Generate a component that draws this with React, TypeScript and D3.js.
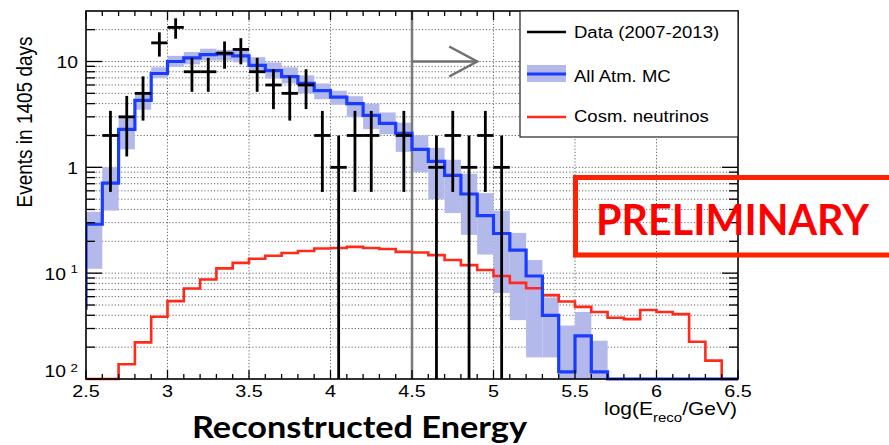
import React from "react";
import * as d3 from "d3";

// ---------- data ----------
const binStart = 2.5;
const binWidth = 0.1;

// All atmospheric MC (blue), per 0.1 bin from 2.5 to 6.5
const mcValues = [
  0.29, 0.71, 2.28, 4.3, 7.7, 10.0, 10.8, 11.6, 11.8, 11.3,
  9.2, 8.2, 7.2, 6.2, 5.3, 4.6, 4.0, 3.1, 2.6, 2.1,
  1.48, 1.14, 0.84, 0.56, 0.35, 0.237, 0.165, 0.094, 0.04, 0.0117,
  0.0256, 0.0117, 0, 0, 0, 0, 0, 0, 0, 0,
];
const mcStartValue = 0.045;
const mcLow = [
  0.11, 0.39, 1.48, 3.5, 7.0, 8.9, 9.4, 10.2, 10.2, 9.8,
  7.9, 6.9, 6.2, 5.0, 4.4, 3.9, 3.0, 2.3, 2.05, 1.4,
  0.9, 0.5, 0.37, 0.23, 0.15, 0.065, 0.036, 0.016, 0.016, 0.005,
  0.005, 0.005, 0, 0, 0, 0, 0, 0, 0, 0,
];
const mcHigh = [
  0.38, 1.0, 2.95, 5.1, 8.8, 11.3, 12.3, 13.2, 12.9, 12.8,
  11.0, 9.8, 8.8, 7.4, 6.2, 5.3, 4.7, 4.0, 3.3, 2.64,
  2.0, 1.53, 1.18, 0.87, 0.57, 0.39, 0.24, 0.133, 0.059, 0.032,
  0.043, 0.023, 0, 0, 0, 0, 0, 0, 0, 0,
];

// Cosmic neutrinos (red)
const cosmValues = [
  0, 0, 0.0138, 0.0222, 0.0387, 0.0544, 0.0717, 0.0872, 0.111, 0.125,
  0.137, 0.146, 0.155, 0.162, 0.171, 0.173, 0.177, 0.173, 0.169, 0.159,
  0.157, 0.148, 0.133, 0.119, 0.107, 0.094, 0.081, 0.072, 0.062, 0.054,
  0.048, 0.043, 0.0379, 0.0368, 0.0448, 0.043, 0.041, 0.0225, 0.0149, 0,
];

// Data (2007-2013)
const dataCenters = [
  2.65, 2.75, 2.85, 2.95, 3.05, 3.15, 3.25, 3.35, 3.45, 3.55,
  3.65, 3.75, 3.85, 3.95, 4.05, 4.15, 4.25, 4.45, 4.65, 4.75,
  4.85, 4.95, 5.05,
];
const dataCounts = [
  2, 3, 5, 15, 21, 8, 8, 12, 13, 8,
  6, 5, 6, 2, 1, 2, 2, 2, 1, 2,
  1, 2, 1,
];

const xTickValues = [2.5, 3, 3.5, 4, 4.5, 5, 5.5, 6, 6.5];
const xTickLabels = ["2.5", "3", "3.5", "4", "4.5", "5", "5.5", "6", "6.5"];
const xGridValues = [3, 3.5, 4, 4.5, 5, 5.5, 6];
const yLabelValues = [10, 1, 0.1, 0.01];
const yLabelBase = ["10", "1", "10", "10"];
const yLabelSup = ["", "", "1", "2"];
const cutValue = 4.5;
const arrowEnd = 4.9;
const arrowLevel = 10;

const legendLabels = ["Data (2007-2013)", "All Atm. MC", "Cosm. neutrinos"];
const yTitle = "Events in 1405 days";
const xTitle = "Reconstructed Energy";
const stamp = "PRELIMINARY";

// ---------- layout ----------
const W = 889;
const H = 445;
const L = 86, R = 738, T = 11, B = 379;

const x = d3.scaleLinear().domain([2.5, 6.5]).range([L, R]);
const y = d3.scaleLog().domain([0.01, 30]).range([B, T]).clamp(true);
const yv = (v: number) => y(Math.max(v, 0.01));

const FONT = "'Liberation Sans', Arial, Helvetica, sans-serif";
const BOLD = "Lato, 'Open Sans', sans-serif";

function stepPath(vals: number[], start: number) {
  let p = `M${x(binStart)},${yv(start)}`;
  vals.forEach((v, i) => {
    const lo = binStart + i * binWidth;
    const hi = lo + binWidth;
    const yy = yv(v);
    p += `L${x(lo)},${yy}L${x(hi)},${yy}`;
  });
  return p;
}

function ST(props: any) {
  const { x: tx, y: ty, sx = 1, size, anchor = "start", fill = "#000", children, ...rest } = props;
  return (
    <text
      transform={`translate(${tx},${ty}) scale(${sx},1)`}
      fontSize={size}
      fontFamily={FONT}
      textAnchor={anchor}
      fill={fill}
      {...rest}
    >
      {children}
    </text>
  );
}

export default function App() {
  const yTicks = y.ticks().filter((v) => v < 29);
  const xTicks = x.ticks(40);
  const isMajorY = (v: number) => Math.abs(Math.log10(v) - Math.round(Math.log10(v))) < 1e-6;
  const isMajorX = (v: number) => Math.abs(v * 2 - Math.round(v * 2)) < 1e-6;

  const bins = mcValues.map((_, i) => binStart + i * binWidth);

  return (
    <svg
      width={W}
      height={H}
      style={{ position: "absolute", left: 0, top: 0, background: "#fff" }}
    >
      <defs>
        <clipPath id="plot">
          <rect x={L} y={T} width={R - L} height={B - T + 2} />
        </clipPath>
      </defs>
      <rect x={0} y={0} width={W} height={H} fill="#fff" />

      {/* grid */}
      <g stroke="#666" strokeWidth={1} strokeDasharray="1.2,2">
        {xGridValues.map((v) => (
          <line key={"gx" + v} x1={x(v)} x2={x(v)} y1={T} y2={B} />
        ))}
        {yTicks.filter((v) => v > 0.011).map((v) => (
          <line key={"gy" + v} x1={L} x2={R} y1={y(v)} y2={y(v)} />
        ))}
      </g>

      <g clipPath="url(#plot)">
        {/* MC uncertainty band */}
        {bins.map((lo, i) =>
          mcHigh[i] > 0 ? (
            <rect
              key={"band" + i}
              x={x(lo)}
              width={x(lo + binWidth) - x(lo)}
              y={yv(mcHigh[i])}
              height={yv(mcLow[i]) - yv(mcHigh[i])}
              fill="#b4b9ec"
            />
          ) : null
        )}

        {/* cut line */}
        <line x1={x(cutValue)} x2={x(cutValue)} y1={T} y2={B} stroke="#7a7a7a" strokeWidth={2.5} />

        {/* cosmic neutrinos */}
        <path d={stepPath(cosmValues, 0)} fill="none" stroke="#ff2a1a" strokeWidth={2.6} />
        {/* MC */}
        <path d={stepPath(mcValues, mcStartValue)} fill="none" stroke="#1a3cff" strokeWidth={3.2} />

        {/* data */}
        <g stroke="#000" strokeWidth={2.8}>
          {dataCenters.map((c, i) => {
            const n = dataCounts[i];
            const e = Math.sqrt(n);
            return (
              <g key={"d" + i}>
                <line x1={x(c - binWidth / 2)} x2={x(c + binWidth / 2)} y1={yv(n)} y2={yv(n)} />
                <line x1={x(c)} x2={x(c)} y1={yv(n + e)} y2={n - e > 0 ? yv(n - e) : B} />
              </g>
            );
          })}
        </g>
      </g>

      {/* arrow */}
      <g stroke="#707070" strokeWidth={2.5} fill="none">
        <line x1={x(cutValue)} x2={x(arrowEnd)} y1={y(arrowLevel)} y2={y(arrowLevel)} />
        <polyline
          points={`${x(arrowEnd) - 28},${y(arrowLevel) - 15} ${x(arrowEnd)},${y(arrowLevel)} ${x(arrowEnd) - 28},${y(arrowLevel) + 15}`}
        />
      </g>

      {/* frame & ticks */}
      <g stroke="#000" strokeWidth={1.3}>
        {yTicks.map((v) => {
          const len = isMajorY(v) ? 16 : 9;
          return (
            <g key={"ty" + v}>
              <line x1={L} x2={L + len} y1={y(v)} y2={y(v)} />
              <line x1={R} x2={R - len} y1={y(v)} y2={y(v)} />
            </g>
          );
        })}
        {xTicks.map((v) => {
          const len = isMajorX(v) ? 9 : 5;
          return (
            <g key={"tx" + v}>
              <line x1={x(v)} x2={x(v)} y1={B} y2={B - len} />
              <line x1={x(v)} x2={x(v)} y1={T} y2={T + len} />
            </g>
          );
        })}
      </g>
      <rect x={L} y={T} width={R - L} height={B - T} fill="none" stroke="#000" strokeWidth={1.6} />

      {/* x tick labels */}
      {xTickValues.map((v, i) => (
        <ST key={"xl" + v} x={x(v)} y={397} size={16.5} sx={1.2} anchor="middle">
          {xTickLabels[i]}
        </ST>
      ))}

      {/* y tick labels */}
      {yLabelValues.map((v, i) =>
        yLabelSup[i] ? (
          <g key={"yl" + v}>
            <ST x={66} y={Math.min(y(v) + 6.5, 377)} size={16.5} sx={1.17} anchor="end">
              {yLabelBase[i]}
            </ST>
            <ST x={78} y={Math.min(y(v), 372)} size={11.5} sx={1.17} anchor="end">
              {yLabelSup[i]}
            </ST>
          </g>
        ) : (
          <ST key={"yl" + v} x={78} y={y(v) + 6.5} size={16.5} sx={1.17} anchor="end">
            {yLabelBase[i]}
          </ST>
        )
      )}

      {/* y title */}
      <text
        transform="translate(32,122) scale(1.2,1) rotate(-90)"
        fontSize={19}
        fontFamily={FONT}
        textAnchor="middle"
        fill="#000"
      >
        {yTitle}
      </text>

      {/* x axis unit title */}
      <text
        transform="translate(737,415) scale(1.2,1)"
        fontSize={17.5}
        fontFamily={FONT}
        textAnchor="end"
        fill="#000"
      >
        log(E
        <tspan fontSize={12.5} dy={7}>reco</tspan>
        <tspan dy={-7}>/GeV)</tspan>
      </text>

      {/* legend */}
      <rect x={520} y={T} width={R - 520} height={126} fill="#fff" stroke="#222" strokeWidth={1.2} />
      <line x1={527} x2={566} y1={32} y2={32} stroke="#000" strokeWidth={2.6} />
      <rect x={527} y={65} width={39} height={17} fill="#b4b9ec" />
      <line x1={527} x2={566} y1={74} y2={74} stroke="#1a3cff" strokeWidth={3.2} />
      <line x1={527} x2={566} y1={117} y2={117} stroke="#ff2a1a" strokeWidth={2.6} />
      <ST x={574} y={37.5} size={17} sx={1.09}>{legendLabels[0]}</ST>
      <ST x={574} y={81.5} size={17} sx={1.09}>{legendLabels[1]}</ST>
      <ST x={574} y={122} size={17} sx={1.09}>{legendLabels[2]}</ST>

      {/* x title */}
      <text
        x={192}
        y={438}
        fontSize={30}
        fontWeight={700}
        fontFamily={BOLD}
        textLength={335}
        lengthAdjust="spacingAndGlyphs"
        fill="#000"
      >
        {xTitle}
      </text>

      {/* preliminary stamp */}
      <rect x={575.5} y={177.5} width={340} height={77.5} fill="none" stroke="#ff2200" strokeWidth={5} />
      <text
        x={596}
        y={235}
        fontSize={42}
        fontWeight={700}
        fontFamily={BOLD}
        textLength={273}
        lengthAdjust="spacingAndGlyphs"
        fill="#ff0000"
      >
        {stamp}
      </text>
    </svg>
  );
}
